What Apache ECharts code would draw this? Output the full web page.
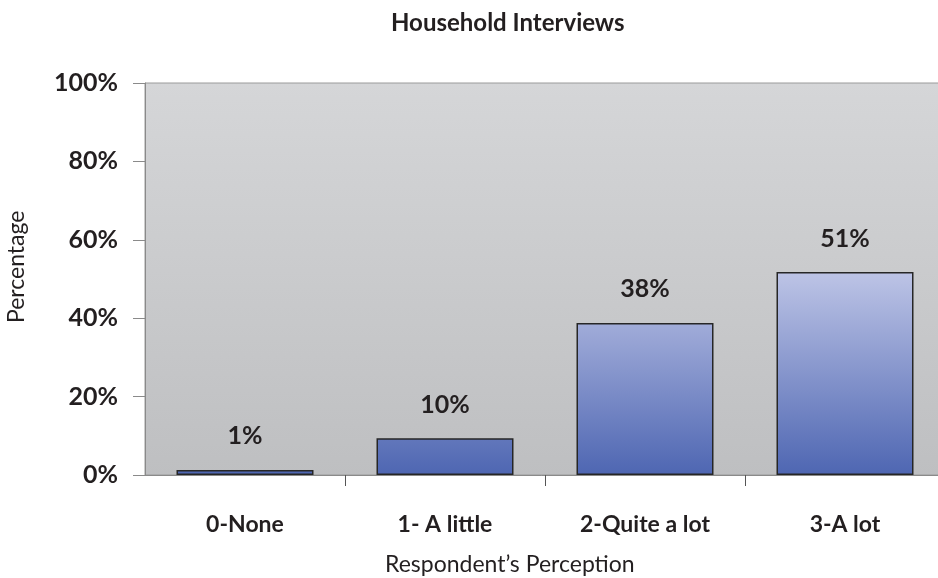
<!DOCTYPE html>
<html>
<head>
<meta charset="utf-8">
<script src="https://cdn.jsdelivr.net/npm/echarts@6/dist/echarts.min.js"></script>
<style>
html,body{margin:0;padding:0;background:#fff;}
#c{width:938px;height:578px;}
</style>
</head>
<body>
<div id="c"></div>
<script>
const categories = ['0-None', '1- A little', '2-Quite a lot', '3-A lot'];
const values = [1.3, 9.4, 38.8, 51.8];
const valueLabels = ['1%', '10%', '38%', '51%'];
const yTicks = [0, 20, 40, 60, 80, 100];

const FONT = 'Lato';
const TXT = '#231f20';

function lerp(a, b, t) {
  const pa = [parseInt(a.slice(1,3),16), parseInt(a.slice(3,5),16), parseInt(a.slice(5,7),16)];
  const pb = [parseInt(b.slice(1,3),16), parseInt(b.slice(3,5),16), parseInt(b.slice(5,7),16)];
  return 'rgb(' + pa.map((v,i)=>Math.round(v + (pb[i]-v)*t)).join(',') + ')';
}
const BAR_BOTTOM = '#4e66b2';
const BAR_TOP = '#bdc4e6';
const maxV = Math.max(...values);

const chart = echarts.init(document.getElementById('c'));
chart.setOption({
  animation: false,
  grid: {
    left: 145, top: 83, width: 800, height: 392,
    outerBoundsMode: 'none',
    containLabel: false,
    show: true,
    borderColor: '#9a9a9a', borderWidth: 1,
    backgroundColor: new echarts.graphic.LinearGradient(0, 0, 0, 1, [
      {offset: 0, color: '#d5d6d8'},
      {offset: 1, color: '#bebfc1'}
    ])
  },
  graphic: [
    {type: 'text', left: 391, top: 11, style: {text: 'Household Interviews', font: 'bold 24px ' + FONT, fill: TXT}},
    {type: 'text', left: 385, top: 553, style: {text: 'Respondent\u2019s Perception', font: '23px ' + FONT, fill: TXT}},
    {type: 'text', x: 5, y: 323, rotation: Math.PI/2, style: {text: 'Percentage', font: '23px ' + FONT, fill: TXT}}
  ],
  xAxis: {
    type: 'category',
    data: categories,
    axisLine: {lineStyle: {color: '#8a8a8a', width: 1}},
    axisTick: {show: true, length: 11, inside: false, interval: (i) => i > 0, lineStyle: {color: '#555'}},
    axisLabel: {margin: 38, color: TXT, fontFamily: FONT, fontWeight: 'bold', fontSize: 23}
  },
  yAxis: {
    type: 'value',
    min: 0, max: 100, interval: 20,
    axisLine: {show: true, lineStyle: {color: '#8a8a8a', width: 1}},
    axisTick: {show: true, length: 12, lineStyle: {color: '#8a8a8a'}},
    splitLine: {show: false},
    axisLabel: {
      margin: 27, color: TXT, fontFamily: FONT, fontWeight: 'bold', fontSize: 25,
      formatter: v => yTicks.includes(v) ? v + '%' : ''
    }
  },
  series: [{
    type: 'bar',
    barCategoryGap: '31.5%',
    data: values.map((v, i) => ({
      value: v,
      itemStyle: {
        color: new echarts.graphic.LinearGradient(0, 0, 0, 1, [
          {offset: 0, color: lerp(BAR_BOTTOM, BAR_TOP, v / maxV)},
          {offset: 1, color: BAR_BOTTOM}
        ])
      }
    })),
    itemStyle: {borderColor: '#262626', borderWidth: 1.5},
    label: {
      show: true, position: 'top', distance: 21,
      formatter: p => valueLabels[p.dataIndex],
      color: TXT, fontFamily: FONT, fontWeight: 'bold', fontSize: 25
    }
  }]
});
</script>
</body>
</html>
